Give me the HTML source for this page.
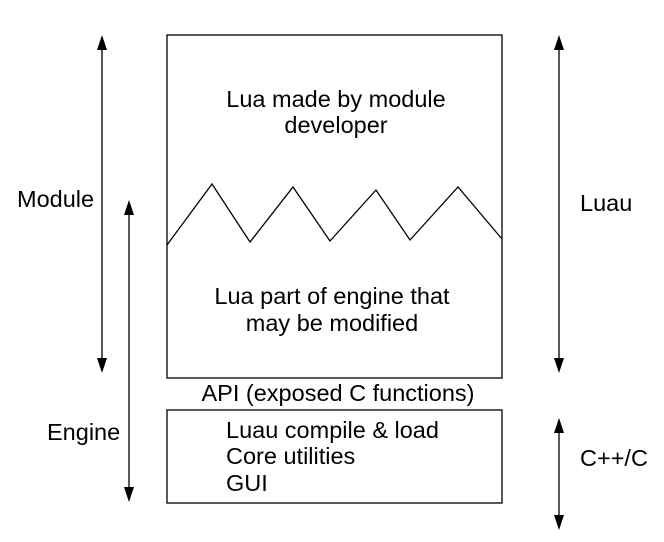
<!DOCTYPE html>
<html><head><style>
html,body{margin:0;padding:0;background:#fff;}
svg{display:block;font-family:"Liberation Sans",sans-serif;}
</style></head><body>
<svg width="664" height="542" viewBox="0 0 664 542" xmlns="http://www.w3.org/2000/svg">
<g fill="none" stroke="#000" stroke-width="1.3">
<rect x="167" y="35" width="335" height="343"/>
<rect x="167" y="410" width="335" height="93"/>
<polyline points="167,245 212,184 250,242 293,187 330,241 376,190 410,240 458,187 502,239"/>
</g>
<g stroke="#000" stroke-width="1.3">
<line x1="102" y1="45" x2="102" y2="363"/>
<line x1="129" y1="210" x2="129" y2="492"/>
<line x1="559" y1="45" x2="559" y2="363"/>
<line x1="559" y1="428" x2="559" y2="520"/>
</g>
<g fill="#000">
<polygon points="102,35 97,50 107,50"/><polygon points="102,373 97,358 107,358"/>
<polygon points="129,200 124,215 134,215"/><polygon points="129,502 124,487 134,487"/>
<polygon points="559,35 554,50 564,50"/><polygon points="559,373 554,358 564,358"/>
<polygon points="559,418 554,433 564,433"/><polygon points="559,530 554,515 564,515"/>
</g>
<g font-size="23.5" fill="#000">
<text x="17" y="207">Module</text>
<text x="47" y="440">Engine</text>
<text x="580" y="211">Luau</text>
<text x="580" y="466">C++/C</text>
<text x="336" y="107" text-anchor="middle">Lua made by module</text>
<text x="336" y="133" text-anchor="middle">developer</text>
<text x="332" y="304" text-anchor="middle">Lua part of engine that</text>
<text x="332" y="331" text-anchor="middle">may be modified</text>
<text x="338" y="401" text-anchor="middle">API (exposed C functions)</text>
<text x="226" y="438">Luau compile &amp; load</text>
<text x="226" y="464">Core utilities</text>
<text x="226" y="491">GUI</text>
</g>
</svg>
</body></html>
